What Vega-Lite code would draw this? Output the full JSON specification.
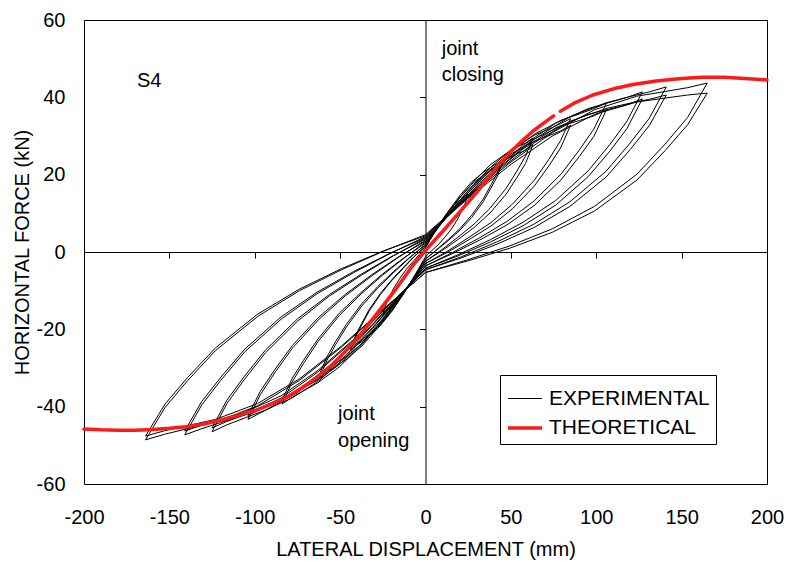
{
"$schema": "https://vega.github.io/schema/vega-lite/v6.json",
"width": 683, "height": 464,
"autosize": {"type": "none"},
"padding": {"left": 84, "top": 20, "right": 22, "bottom": 83},
"background": "white",
"config": {
  "view": {"stroke": "black", "strokeWidth": 1},
  "font": "Liberation Sans",
  "text": {"font": "Liberation Sans", "color": "black"},
  "axis": {"labelFont": "Liberation Sans", "titleFont": "Liberation Sans", "labelColor": "black", "titleColor": "black", "grid": false, "titleFontWeight": "normal"},
  "legend": {"labelFont": "Liberation Sans"}
},
"datasets": {
"exp": [
{"loop":"8a","i":0,"x":0,"y":4.5},{"loop":"8a","i":1,"x":24.8,"y":14.1},{"loop":"8a","i":2,"x":49.5,"y":23.1},{"loop":"8a","i":3,"x":74.3,"y":30.9},{"loop":"8a","i":4,"x":99,"y":36.8},{"loop":"8a","i":5,"x":123.8,"y":40.3},{"loop":"8a","i":6,"x":140.3,"y":41.5},{"loop":"8a","i":7,"x":153.5,"y":42.5},{"loop":"8a","i":8,"x":165,"y":43.7},{"loop":"8a","i":9,"x":153.5,"y":34.8},{"loop":"8a","i":10,"x":140.3,"y":27.9},{"loop":"8a","i":11,"x":123.8,"y":20.1},{"loop":"8a","i":12,"x":99,"y":11.8},{"loop":"8a","i":13,"x":74.3,"y":6.0},{"loop":"8a","i":14,"x":49.5,"y":1.6},{"loop":"8a","i":15,"x":24.8,"y":-2.0},{"loop":"8a","i":16,"x":0,"y":-5.3},{"loop":"8a","i":17,"x":-24.6,"y":-14.8},{"loop":"8a","i":18,"x":-49.2,"y":-24.6},{"loop":"8a","i":19,"x":-73.8,"y":-33.2},{"loop":"8a","i":20,"x":-98.4,"y":-39.8},{"loop":"8a","i":21,"x":-123,"y":-44.0},{"loop":"8a","i":22,"x":-139.4,"y":-45.7},{"loop":"8a","i":23,"x":-152.5,"y":-47.1},{"loop":"8a","i":24,"x":-164,"y":-48.6},{"loop":"8a","i":25,"x":-152.5,"y":-40.2},{"loop":"8a","i":26,"x":-139.4,"y":-33.3},{"loop":"8a","i":27,"x":-123,"y":-25.5},{"loop":"8a","i":28,"x":-98.4,"y":-16.7},{"loop":"8a","i":29,"x":-73.8,"y":-10.0},{"loop":"8a","i":30,"x":-49.2,"y":-4.6},{"loop":"8a","i":31,"x":-24.6,"y":0.2},{"loop":"8a","i":32,"x":0,"y":4.5},
{"loop":"8b","i":0,"x":0,"y":4.2},{"loop":"8b","i":1,"x":24.8,"y":13.8},{"loop":"8b","i":2,"x":49.5,"y":22.5},{"loop":"8b","i":3,"x":74.3,"y":30.0},{"loop":"8b","i":4,"x":99,"y":35.6},{"loop":"8b","i":5,"x":123.8,"y":38.8},{"loop":"8b","i":6,"x":140.3,"y":39.8},{"loop":"8b","i":7,"x":153.5,"y":40.6},{"loop":"8b","i":8,"x":165,"y":41.1},{"loop":"8b","i":9,"x":153.5,"y":32.9},{"loop":"8b","i":10,"x":140.3,"y":26.2},{"loop":"8b","i":11,"x":123.8,"y":18.6},{"loop":"8b","i":12,"x":99,"y":10.6},{"loop":"8b","i":13,"x":74.3,"y":5.1},{"loop":"8b","i":14,"x":49.5,"y":1.0},{"loop":"8b","i":15,"x":24.8,"y":-2.3},{"loop":"8b","i":16,"x":0,"y":-5.3},{"loop":"8b","i":17,"x":-24.6,"y":-14.7},{"loop":"8b","i":18,"x":-49.2,"y":-24.3},{"loop":"8b","i":19,"x":-73.8,"y":-32.8},{"loop":"8b","i":20,"x":-98.4,"y":-39.2},{"loop":"8b","i":21,"x":-123,"y":-43.3},{"loop":"8b","i":22,"x":-139.4,"y":-44.9},{"loop":"8b","i":23,"x":-152.5,"y":-46.2},{"loop":"8b","i":24,"x":-164,"y":-47.6},{"loop":"8b","i":25,"x":-152.5,"y":-39.3},{"loop":"8b","i":26,"x":-139.4,"y":-32.5},{"loop":"8b","i":27,"x":-123,"y":-24.8},{"loop":"8b","i":28,"x":-98.4,"y":-16.1},{"loop":"8b","i":29,"x":-73.8,"y":-9.6},{"loop":"8b","i":30,"x":-49.2,"y":-4.3},{"loop":"8b","i":31,"x":-24.6,"y":0.3},{"loop":"8b","i":32,"x":0,"y":4.2},
{"loop":"7a","i":0,"x":0,"y":4.0},{"loop":"7a","i":1,"x":21.2,"y":13.0},{"loop":"7a","i":2,"x":42.3,"y":21.6},{"loop":"7a","i":3,"x":63.5,"y":29.1},{"loop":"7a","i":4,"x":84.6,"y":35.0},{"loop":"7a","i":5,"x":105.8,"y":38.6},{"loop":"7a","i":6,"x":119.9,"y":40.2},{"loop":"7a","i":7,"x":131.1,"y":41.4},{"loop":"7a","i":8,"x":141,"y":42.7},{"loop":"7a","i":9,"x":131.1,"y":34.6},{"loop":"7a","i":10,"x":119.9,"y":28.2},{"loop":"7a","i":11,"x":105.8,"y":20.9},{"loop":"7a","i":12,"x":84.6,"y":13.0},{"loop":"7a","i":13,"x":63.5,"y":7.2},{"loop":"7a","i":14,"x":42.3,"y":2.7},{"loop":"7a","i":15,"x":21.2,"y":-1.2},{"loop":"7a","i":16,"x":0,"y":-4.6},{"loop":"7a","i":17,"x":-21.2,"y":-13.7},{"loop":"7a","i":18,"x":-42.3,"y":-23.0},{"loop":"7a","i":19,"x":-63.5,"y":-31.2},{"loop":"7a","i":20,"x":-84.6,"y":-37.8},{"loop":"7a","i":21,"x":-105.8,"y":-42.1},{"loop":"7a","i":22,"x":-119.9,"y":-44.1},{"loop":"7a","i":23,"x":-131.1,"y":-45.7},{"loop":"7a","i":24,"x":-141,"y":-47.3},{"loop":"7a","i":25,"x":-131.1,"y":-39.6},{"loop":"7a","i":26,"x":-119.9,"y":-33.2},{"loop":"7a","i":27,"x":-105.8,"y":-25.8},{"loop":"7a","i":28,"x":-84.6,"y":-17.4},{"loop":"7a","i":29,"x":-63.5,"y":-10.8},{"loop":"7a","i":30,"x":-42.3,"y":-5.4},{"loop":"7a","i":31,"x":-21.2,"y":-0.5},{"loop":"7a","i":32,"x":0,"y":4.0},
{"loop":"7b","i":0,"x":0,"y":3.7},{"loop":"7b","i":1,"x":21.2,"y":12.7},{"loop":"7b","i":2,"x":42.3,"y":21.0},{"loop":"7b","i":3,"x":63.5,"y":28.2},{"loop":"7b","i":4,"x":84.6,"y":33.8},{"loop":"7b","i":5,"x":105.8,"y":37.1},{"loop":"7b","i":6,"x":119.9,"y":38.5},{"loop":"7b","i":7,"x":131.1,"y":39.5},{"loop":"7b","i":8,"x":141,"y":40.6},{"loop":"7b","i":9,"x":131.1,"y":32.7},{"loop":"7b","i":10,"x":119.9,"y":26.5},{"loop":"7b","i":11,"x":105.8,"y":19.4},{"loop":"7b","i":12,"x":84.6,"y":11.8},{"loop":"7b","i":13,"x":63.5,"y":6.3},{"loop":"7b","i":14,"x":42.3,"y":2.1},{"loop":"7b","i":15,"x":21.2,"y":-1.5},{"loop":"7b","i":16,"x":0,"y":-4.6},{"loop":"7b","i":17,"x":-21.2,"y":-13.6},{"loop":"7b","i":18,"x":-42.3,"y":-22.7},{"loop":"7b","i":19,"x":-63.5,"y":-30.8},{"loop":"7b","i":20,"x":-84.6,"y":-37.2},{"loop":"7b","i":21,"x":-105.8,"y":-41.4},{"loop":"7b","i":22,"x":-119.9,"y":-43.3},{"loop":"7b","i":23,"x":-131.1,"y":-44.8},{"loop":"7b","i":24,"x":-141,"y":-46.3},{"loop":"7b","i":25,"x":-131.1,"y":-38.7},{"loop":"7b","i":26,"x":-119.9,"y":-32.4},{"loop":"7b","i":27,"x":-105.8,"y":-25.1},{"loop":"7b","i":28,"x":-84.6,"y":-16.8},{"loop":"7b","i":29,"x":-63.5,"y":-10.4},{"loop":"7b","i":30,"x":-42.3,"y":-5.1},{"loop":"7b","i":31,"x":-21.2,"y":-0.4},{"loop":"7b","i":32,"x":0,"y":3.7},
{"loop":"6a","i":0,"x":0,"y":3.6},{"loop":"6a","i":1,"x":19.1,"y":12.2},{"loop":"6a","i":2,"x":38.1,"y":20.4},{"loop":"6a","i":3,"x":57.2,"y":27.6},{"loop":"6a","i":4,"x":76.2,"y":33.3},{"loop":"6a","i":5,"x":95.3,"y":37.1},{"loop":"6a","i":6,"x":108,"y":38.7},{"loop":"6a","i":7,"x":118.1,"y":40.0},{"loop":"6a","i":8,"x":127,"y":41.4},{"loop":"6a","i":9,"x":118.1,"y":33.9},{"loop":"6a","i":10,"x":108,"y":27.8},{"loop":"6a","i":11,"x":95.3,"y":21.0},{"loop":"6a","i":12,"x":76.2,"y":13.3},{"loop":"6a","i":13,"x":57.2,"y":7.7},{"loop":"6a","i":14,"x":38.1,"y":3.2},{"loop":"6a","i":15,"x":19.1,"y":-0.7},{"loop":"6a","i":16,"x":0,"y":-4.2},{"loop":"6a","i":17,"x":-18.8,"y":-13.0},{"loop":"6a","i":18,"x":-37.5,"y":-22.0},{"loop":"6a","i":19,"x":-56.3,"y":-29.9},{"loop":"6a","i":20,"x":-75,"y":-36.4},{"loop":"6a","i":21,"x":-93.8,"y":-40.9},{"loop":"6a","i":22,"x":-106.3,"y":-43.0},{"loop":"6a","i":23,"x":-116.3,"y":-44.7},{"loop":"6a","i":24,"x":-125,"y":-46.5},{"loop":"6a","i":25,"x":-116.3,"y":-39.2},{"loop":"6a","i":26,"x":-106.3,"y":-33.1},{"loop":"6a","i":27,"x":-93.8,"y":-26.1},{"loop":"6a","i":28,"x":-75,"y":-17.9},{"loop":"6a","i":29,"x":-56.3,"y":-11.4},{"loop":"6a","i":30,"x":-37.5,"y":-6.0},{"loop":"6a","i":31,"x":-18.8,"y":-1.0},{"loop":"6a","i":32,"x":0,"y":3.6},
{"loop":"6b","i":0,"x":0,"y":3.3},{"loop":"6b","i":1,"x":19.1,"y":11.9},{"loop":"6b","i":2,"x":38.1,"y":19.8},{"loop":"6b","i":3,"x":57.2,"y":26.7},{"loop":"6b","i":4,"x":76.2,"y":32.1},{"loop":"6b","i":5,"x":95.3,"y":35.6},{"loop":"6b","i":6,"x":108,"y":37.0},{"loop":"6b","i":7,"x":118.1,"y":38.1},{"loop":"6b","i":8,"x":127,"y":39.6},{"loop":"6b","i":9,"x":118.1,"y":32.0},{"loop":"6b","i":10,"x":108,"y":26.1},{"loop":"6b","i":11,"x":95.3,"y":19.5},{"loop":"6b","i":12,"x":76.2,"y":12.1},{"loop":"6b","i":13,"x":57.2,"y":6.8},{"loop":"6b","i":14,"x":38.1,"y":2.6},{"loop":"6b","i":15,"x":19.1,"y":-1.0},{"loop":"6b","i":16,"x":0,"y":-4.2},{"loop":"6b","i":17,"x":-18.8,"y":-12.9},{"loop":"6b","i":18,"x":-37.5,"y":-21.7},{"loop":"6b","i":19,"x":-56.3,"y":-29.5},{"loop":"6b","i":20,"x":-75,"y":-35.8},{"loop":"6b","i":21,"x":-93.8,"y":-40.2},{"loop":"6b","i":22,"x":-106.3,"y":-42.2},{"loop":"6b","i":23,"x":-116.3,"y":-43.8},{"loop":"6b","i":24,"x":-125,"y":-45.5},{"loop":"6b","i":25,"x":-116.3,"y":-38.3},{"loop":"6b","i":26,"x":-106.3,"y":-32.3},{"loop":"6b","i":27,"x":-93.8,"y":-25.4},{"loop":"6b","i":28,"x":-75,"y":-17.3},{"loop":"6b","i":29,"x":-56.3,"y":-11.0},{"loop":"6b","i":30,"x":-37.5,"y":-5.7},{"loop":"6b","i":31,"x":-18.8,"y":-0.9},{"loop":"6b","i":32,"x":0,"y":3.3},
{"loop":"5a","i":0,"x":0,"y":3.1},{"loop":"5a","i":1,"x":15.9,"y":11.0},{"loop":"5a","i":2,"x":31.8,"y":18.5},{"loop":"5a","i":3,"x":47.7,"y":25.0},{"loop":"5a","i":4,"x":63.6,"y":30.4},{"loop":"5a","i":5,"x":79.5,"y":34.1},{"loop":"5a","i":6,"x":90.1,"y":35.7},{"loop":"5a","i":7,"x":98.6,"y":37.1},{"loop":"5a","i":8,"x":106,"y":38.5},{"loop":"5a","i":9,"x":98.6,"y":31.8},{"loop":"5a","i":10,"x":90.1,"y":26.4},{"loop":"5a","i":11,"x":79.5,"y":20.2},{"loop":"5a","i":12,"x":63.6,"y":13.2},{"loop":"5a","i":13,"x":47.7,"y":7.9},{"loop":"5a","i":14,"x":31.8,"y":3.7},{"loop":"5a","i":15,"x":15.9,"y":-0.1},{"loop":"5a","i":16,"x":0,"y":-3.6},{"loop":"5a","i":17,"x":-15.6,"y":-11.7},{"loop":"5a","i":18,"x":-31.2,"y":-19.9},{"loop":"5a","i":19,"x":-46.8,"y":-27.2},{"loop":"5a","i":20,"x":-62.4,"y":-33.3},{"loop":"5a","i":21,"x":-78,"y":-37.7},{"loop":"5a","i":22,"x":-88.4,"y":-39.8},{"loop":"5a","i":23,"x":-96.7,"y":-41.6},{"loop":"5a","i":24,"x":-104,"y":-43.3},{"loop":"5a","i":25,"x":-96.7,"y":-36.9},{"loop":"5a","i":26,"x":-88.4,"y":-31.3},{"loop":"5a","i":27,"x":-78,"y":-24.9},{"loop":"5a","i":28,"x":-62.4,"y":-17.4},{"loop":"5a","i":29,"x":-46.8,"y":-11.3},{"loop":"5a","i":30,"x":-31.2,"y":-6.1},{"loop":"5a","i":31,"x":-15.6,"y":-1.3},{"loop":"5a","i":32,"x":0,"y":3.1},
{"loop":"5b","i":0,"x":0,"y":2.8},{"loop":"5b","i":1,"x":15.9,"y":10.7},{"loop":"5b","i":2,"x":31.8,"y":17.9},{"loop":"5b","i":3,"x":47.7,"y":24.1},{"loop":"5b","i":4,"x":63.6,"y":29.2},{"loop":"5b","i":5,"x":79.5,"y":32.6},{"loop":"5b","i":6,"x":90.1,"y":34.0},{"loop":"5b","i":7,"x":98.6,"y":35.2},{"loop":"5b","i":8,"x":106,"y":36.8},{"loop":"5b","i":9,"x":98.6,"y":29.9},{"loop":"5b","i":10,"x":90.1,"y":24.7},{"loop":"5b","i":11,"x":79.5,"y":18.7},{"loop":"5b","i":12,"x":63.6,"y":12.0},{"loop":"5b","i":13,"x":47.7,"y":7.0},{"loop":"5b","i":14,"x":31.8,"y":3.1},{"loop":"5b","i":15,"x":15.9,"y":-0.4},{"loop":"5b","i":16,"x":0,"y":-3.6},{"loop":"5b","i":17,"x":-15.6,"y":-11.6},{"loop":"5b","i":18,"x":-31.2,"y":-19.6},{"loop":"5b","i":19,"x":-46.8,"y":-26.8},{"loop":"5b","i":20,"x":-62.4,"y":-32.7},{"loop":"5b","i":21,"x":-78,"y":-37.0},{"loop":"5b","i":22,"x":-88.4,"y":-39.0},{"loop":"5b","i":23,"x":-96.7,"y":-40.7},{"loop":"5b","i":24,"x":-104,"y":-42.3},{"loop":"5b","i":25,"x":-96.7,"y":-36.0},{"loop":"5b","i":26,"x":-88.4,"y":-30.5},{"loop":"5b","i":27,"x":-78,"y":-24.2},{"loop":"5b","i":28,"x":-62.4,"y":-16.8},{"loop":"5b","i":29,"x":-46.8,"y":-10.9},{"loop":"5b","i":30,"x":-31.2,"y":-5.8},{"loop":"5b","i":31,"x":-15.6,"y":-1.2},{"loop":"5b","i":32,"x":0,"y":2.8},
{"loop":"4a","i":0,"x":0,"y":2.6},{"loop":"4a","i":1,"x":12.8,"y":9.5},{"loop":"4a","i":2,"x":25.5,"y":16.2},{"loop":"4a","i":3,"x":38.3,"y":22.0},{"loop":"4a","i":4,"x":51,"y":26.8},{"loop":"4a","i":5,"x":63.8,"y":30.2},{"loop":"4a","i":6,"x":72.3,"y":31.8},{"loop":"4a","i":7,"x":79.1,"y":33.2},{"loop":"4a","i":8,"x":85,"y":34.5},{"loop":"4a","i":9,"x":79.1,"y":28.8},{"loop":"4a","i":10,"x":72.3,"y":24.0},{"loop":"4a","i":11,"x":63.8,"y":18.6},{"loop":"4a","i":12,"x":51,"y":12.4},{"loop":"4a","i":13,"x":38.3,"y":7.6},{"loop":"4a","i":14,"x":25.5,"y":3.8},{"loop":"4a","i":15,"x":12.8,"y":0.2},{"loop":"4a","i":16,"x":0,"y":-3.0},{"loop":"4a","i":17,"x":-12.6,"y":-10.2},{"loop":"4a","i":18,"x":-25.2,"y":-17.6},{"loop":"4a","i":19,"x":-37.8,"y":-24.2},{"loop":"4a","i":20,"x":-50.4,"y":-29.7},{"loop":"4a","i":21,"x":-63,"y":-33.8},{"loop":"4a","i":22,"x":-71.4,"y":-35.9},{"loop":"4a","i":23,"x":-78.1,"y":-37.6},{"loop":"4a","i":24,"x":-84,"y":-39.3},{"loop":"4a","i":25,"x":-78.1,"y":-33.6},{"loop":"4a","i":26,"x":-71.4,"y":-28.8},{"loop":"4a","i":27,"x":-63,"y":-23.2},{"loop":"4a","i":28,"x":-50.4,"y":-16.4},{"loop":"4a","i":29,"x":-37.8,"y":-10.9},{"loop":"4a","i":30,"x":-25.2,"y":-6.0},{"loop":"4a","i":31,"x":-12.6,"y":-1.6},{"loop":"4a","i":32,"x":0,"y":2.6},
{"loop":"4b","i":0,"x":0,"y":2.3},{"loop":"4b","i":1,"x":12.8,"y":9.2},{"loop":"4b","i":2,"x":25.5,"y":15.6},{"loop":"4b","i":3,"x":38.3,"y":21.1},{"loop":"4b","i":4,"x":51,"y":25.6},{"loop":"4b","i":5,"x":63.8,"y":28.7},{"loop":"4b","i":6,"x":72.3,"y":30.1},{"loop":"4b","i":7,"x":79.1,"y":31.3},{"loop":"4b","i":8,"x":85,"y":32.8},{"loop":"4b","i":9,"x":79.1,"y":26.9},{"loop":"4b","i":10,"x":72.3,"y":22.3},{"loop":"4b","i":11,"x":63.8,"y":17.1},{"loop":"4b","i":12,"x":51,"y":11.2},{"loop":"4b","i":13,"x":38.3,"y":6.7},{"loop":"4b","i":14,"x":25.5,"y":3.2},{"loop":"4b","i":15,"x":12.8,"y":-0.1},{"loop":"4b","i":16,"x":0,"y":-3.0},{"loop":"4b","i":17,"x":-12.6,"y":-10.1},{"loop":"4b","i":18,"x":-25.2,"y":-17.3},{"loop":"4b","i":19,"x":-37.8,"y":-23.8},{"loop":"4b","i":20,"x":-50.4,"y":-29.1},{"loop":"4b","i":21,"x":-63,"y":-33.1},{"loop":"4b","i":22,"x":-71.4,"y":-35.1},{"loop":"4b","i":23,"x":-78.1,"y":-36.7},{"loop":"4b","i":24,"x":-84,"y":-38.3},{"loop":"4b","i":25,"x":-78.1,"y":-32.7},{"loop":"4b","i":26,"x":-71.4,"y":-28.0},{"loop":"4b","i":27,"x":-63,"y":-22.5},{"loop":"4b","i":28,"x":-50.4,"y":-15.8},{"loop":"4b","i":29,"x":-37.8,"y":-10.5},{"loop":"4b","i":30,"x":-25.2,"y":-5.7},{"loop":"4b","i":31,"x":-12.6,"y":-1.5},{"loop":"4b","i":32,"x":0,"y":2.3},
{"loop":"3a","i":0,"x":0,"y":2.0},{"loop":"3a","i":1,"x":9.5,"y":7.8},{"loop":"3a","i":2,"x":18.9,"y":13.4},{"loop":"3a","i":3,"x":28.4,"y":18.3},{"loop":"3a","i":4,"x":37.8,"y":22.5},{"loop":"3a","i":5,"x":47.3,"y":25.5},{"loop":"3a","i":6,"x":53.6,"y":27.1},{"loop":"3a","i":7,"x":58.6,"y":28.2},{"loop":"3a","i":8,"x":63,"y":29.5},{"loop":"3a","i":9,"x":58.6,"y":24.8},{"loop":"3a","i":10,"x":53.6,"y":21.0},{"loop":"3a","i":11,"x":47.3,"y":16.5},{"loop":"3a","i":12,"x":37.8,"y":11.3},{"loop":"3a","i":13,"x":28.4,"y":7.2},{"loop":"3a","i":14,"x":18.9,"y":3.8},{"loop":"3a","i":15,"x":9.5,"y":0.6},{"loop":"3a","i":16,"x":0,"y":-2.4},{"loop":"3a","i":17,"x":-9.3,"y":-8.3},{"loop":"3a","i":18,"x":-18.6,"y":-14.3},{"loop":"3a","i":19,"x":-27.9,"y":-19.6},{"loop":"3a","i":20,"x":-37.2,"y":-24.3},{"loop":"3a","i":21,"x":-46.5,"y":-27.8},{"loop":"3a","i":22,"x":-52.7,"y":-29.6},{"loop":"3a","i":23,"x":-57.7,"y":-31.0},{"loop":"3a","i":24,"x":-62,"y":-32.5},{"loop":"3a","i":25,"x":-57.7,"y":-28.0},{"loop":"3a","i":26,"x":-52.7,"y":-24.0},{"loop":"3a","i":27,"x":-46.5,"y":-19.5},{"loop":"3a","i":28,"x":-37.2,"y":-13.9},{"loop":"3a","i":29,"x":-27.9,"y":-9.3},{"loop":"3a","i":30,"x":-18.6,"y":-5.3},{"loop":"3a","i":31,"x":-9.3,"y":-1.5},{"loop":"3a","i":32,"x":0,"y":2.0},
{"loop":"3b","i":0,"x":0,"y":1.8},{"loop":"3b","i":1,"x":9.5,"y":7.5},{"loop":"3b","i":2,"x":18.9,"y":12.8},{"loop":"3b","i":3,"x":28.4,"y":17.4},{"loop":"3b","i":4,"x":37.8,"y":21.3},{"loop":"3b","i":5,"x":47.3,"y":24.0},{"loop":"3b","i":6,"x":53.6,"y":25.4},{"loop":"3b","i":7,"x":58.6,"y":26.3},{"loop":"3b","i":8,"x":63,"y":27.8},{"loop":"3b","i":9,"x":58.6,"y":22.9},{"loop":"3b","i":10,"x":53.6,"y":19.3},{"loop":"3b","i":11,"x":47.3,"y":15.0},{"loop":"3b","i":12,"x":37.8,"y":10.1},{"loop":"3b","i":13,"x":28.4,"y":6.3},{"loop":"3b","i":14,"x":18.9,"y":3.2},{"loop":"3b","i":15,"x":9.5,"y":0.3},{"loop":"3b","i":16,"x":0,"y":-2.4},{"loop":"3b","i":17,"x":-9.3,"y":-8.2},{"loop":"3b","i":18,"x":-18.6,"y":-14.0},{"loop":"3b","i":19,"x":-27.9,"y":-19.2},{"loop":"3b","i":20,"x":-37.2,"y":-23.7},{"loop":"3b","i":21,"x":-46.5,"y":-27.1},{"loop":"3b","i":22,"x":-52.7,"y":-28.8},{"loop":"3b","i":23,"x":-57.7,"y":-30.1},{"loop":"3b","i":24,"x":-62,"y":-31.5},{"loop":"3b","i":25,"x":-57.7,"y":-27.1},{"loop":"3b","i":26,"x":-52.7,"y":-23.2},{"loop":"3b","i":27,"x":-46.5,"y":-18.8},{"loop":"3b","i":28,"x":-37.2,"y":-13.3},{"loop":"3b","i":29,"x":-27.9,"y":-8.9},{"loop":"3b","i":30,"x":-18.6,"y":-5.0},{"loop":"3b","i":31,"x":-9.3,"y":-1.4},{"loop":"3b","i":32,"x":0,"y":1.8},
{"loop":"2a","i":0,"x":0,"y":1.5},{"loop":"2a","i":1,"x":6.8,"y":6.2},{"loop":"2a","i":2,"x":13.5,"y":10.6},{"loop":"2a","i":3,"x":20.3,"y":14.7},{"loop":"2a","i":4,"x":27,"y":18.1},{"loop":"2a","i":5,"x":33.8,"y":20.6},{"loop":"2a","i":6,"x":38.3,"y":21.9},{"loop":"2a","i":7,"x":41.9,"y":22.9},{"loop":"2a","i":8,"x":45,"y":24.0},{"loop":"2a","i":9,"x":41.9,"y":20.3},{"loop":"2a","i":10,"x":38.3,"y":17.3},{"loop":"2a","i":11,"x":33.8,"y":13.7},{"loop":"2a","i":12,"x":27,"y":9.5},{"loop":"2a","i":13,"x":20.3,"y":6.1},{"loop":"2a","i":14,"x":13.5,"y":3.3},{"loop":"2a","i":15,"x":6.8,"y":0.7},{"loop":"2a","i":16,"x":0,"y":-1.8},{"loop":"2a","i":17,"x":-6.6,"y":-6.4},{"loop":"2a","i":18,"x":-13.2,"y":-11.1},{"loop":"2a","i":19,"x":-19.8,"y":-15.4},{"loop":"2a","i":20,"x":-26.4,"y":-19.0},{"loop":"2a","i":21,"x":-33,"y":-21.7},{"loop":"2a","i":22,"x":-37.4,"y":-23.2},{"loop":"2a","i":23,"x":-40.9,"y":-24.3},{"loop":"2a","i":24,"x":-44,"y":-25.5},{"loop":"2a","i":25,"x":-40.9,"y":-22.0},{"loop":"2a","i":26,"x":-37.4,"y":-18.9},{"loop":"2a","i":27,"x":-33,"y":-15.3},{"loop":"2a","i":28,"x":-26.4,"y":-11.0},{"loop":"2a","i":29,"x":-19.8,"y":-7.4},{"loop":"2a","i":30,"x":-13.2,"y":-4.3},{"loop":"2a","i":31,"x":-6.6,"y":-1.2},{"loop":"2a","i":32,"x":0,"y":1.5},
{"loop":"2b","i":0,"x":0,"y":1.3},{"loop":"2b","i":1,"x":6.8,"y":6.1},{"loop":"2b","i":2,"x":13.5,"y":10.3},{"loop":"2b","i":3,"x":20.3,"y":14.3},{"loop":"2b","i":4,"x":27,"y":17.5},{"loop":"2b","i":5,"x":33.8,"y":19.9},{"loop":"2b","i":6,"x":38.3,"y":21.1},{"loop":"2b","i":7,"x":41.9,"y":22.0},{"loop":"2b","i":8,"x":45,"y":23.0},{"loop":"2b","i":9,"x":41.9,"y":19.4},{"loop":"2b","i":10,"x":38.3,"y":16.5},{"loop":"2b","i":11,"x":33.8,"y":13.0},{"loop":"2b","i":12,"x":27,"y":8.9},{"loop":"2b","i":13,"x":20.3,"y":5.7},{"loop":"2b","i":14,"x":13.5,"y":3.0},{"loop":"2b","i":15,"x":6.8,"y":0.6},{"loop":"2b","i":16,"x":0,"y":-1.8},{"loop":"2b","i":17,"x":-6.6,"y":-6.3},{"loop":"2b","i":18,"x":-13.2,"y":-11.0},{"loop":"2b","i":19,"x":-19.8,"y":-15.2},{"loop":"2b","i":20,"x":-26.4,"y":-18.7},{"loop":"2b","i":21,"x":-33,"y":-21.3},{"loop":"2b","i":22,"x":-37.4,"y":-22.8},{"loop":"2b","i":23,"x":-40.9,"y":-23.8},{"loop":"2b","i":24,"x":-44,"y":-25.0},{"loop":"2b","i":25,"x":-40.9,"y":-21.5},{"loop":"2b","i":26,"x":-37.4,"y":-18.5},{"loop":"2b","i":27,"x":-33,"y":-14.9},{"loop":"2b","i":28,"x":-26.4,"y":-10.7},{"loop":"2b","i":29,"x":-19.8,"y":-7.2},{"loop":"2b","i":30,"x":-13.2,"y":-4.1},{"loop":"2b","i":31,"x":-6.6,"y":-1.1},{"loop":"2b","i":32,"x":0,"y":1.3},
{"loop":"1a","i":0,"x":0,"y":1.0},{"loop":"1a","i":1,"x":3.8,"y":4.0},{"loop":"1a","i":2,"x":7.5,"y":6.7},{"loop":"1a","i":3,"x":11.3,"y":9.3},{"loop":"1a","i":4,"x":15,"y":11.4},{"loop":"1a","i":5,"x":18.8,"y":13.0},{"loop":"1a","i":6,"x":21.3,"y":13.8},{"loop":"1a","i":7,"x":23.3,"y":14.4},{"loop":"1a","i":8,"x":25,"y":15.0},{"loop":"1a","i":9,"x":23.3,"y":12.7},{"loop":"1a","i":10,"x":21.3,"y":10.8},{"loop":"1a","i":11,"x":18.8,"y":8.5},{"loop":"1a","i":12,"x":15,"y":5.8},{"loop":"1a","i":13,"x":11.3,"y":3.8},{"loop":"1a","i":14,"x":7.5,"y":1.9},{"loop":"1a","i":15,"x":3.8,"y":0.4},{"loop":"1a","i":16,"x":0,"y":-1.2},{"loop":"1a","i":17,"x":-3.8,"y":-4.1},{"loop":"1a","i":18,"x":-7.5,"y":-7.0},{"loop":"1a","i":19,"x":-11.3,"y":-9.7},{"loop":"1a","i":20,"x":-15,"y":-12.0},{"loop":"1a","i":21,"x":-18.8,"y":-13.7},{"loop":"1a","i":22,"x":-21.3,"y":-14.6},{"loop":"1a","i":23,"x":-23.3,"y":-15.3},{"loop":"1a","i":24,"x":-25,"y":-16.0},{"loop":"1a","i":25,"x":-23.3,"y":-13.8},{"loop":"1a","i":26,"x":-21.3,"y":-11.8},{"loop":"1a","i":27,"x":-18.8,"y":-9.5},{"loop":"1a","i":28,"x":-15,"y":-6.8},{"loop":"1a","i":29,"x":-11.3,"y":-4.5},{"loop":"1a","i":30,"x":-7.5,"y":-2.6},{"loop":"1a","i":31,"x":-3.8,"y":-0.7},{"loop":"1a","i":32,"x":0,"y":1.0}
],
"theo": [
{"part":"T1","i":0,"x":-200,"y":-45.8},{"part":"T1","i":1,"x":-190,"y":-46.0},{"part":"T1","i":2,"x":-180,"y":-46.1},{"part":"T1","i":3,"x":-170,"y":-46.1},{"part":"T1","i":4,"x":-160,"y":-45.9},{"part":"T1","i":5,"x":-150,"y":-45.6},{"part":"T1","i":6,"x":-140,"y":-45.2},{"part":"T1","i":7,"x":-130,"y":-44.5},{"part":"T1","i":8,"x":-120,"y":-43.5},{"part":"T1","i":9,"x":-110,"y":-42.3},{"part":"T1","i":10,"x":-100,"y":-41.0},{"part":"T1","i":11,"x":-90,"y":-39.3},{"part":"T1","i":12,"x":-81,"y":-37.5},{"part":"T1","i":13,"x":-73,"y":-35.3},{"part":"T1","i":14,"x":-65,"y":-32.9},{"part":"T1","i":15,"x":-55,"y":-29.3},{"part":"T1","i":16,"x":-46,"y":-25.3},{"part":"T1","i":17,"x":-36,"y":-20.2},{"part":"T1","i":18,"x":-27,"y":-15.1},{"part":"T1","i":19,"x":-17,"y":-9.4},{"part":"T1","i":20,"x":-8,"y":-3.8},{"part":"T1","i":21,"x":0,"y":0.4},{"part":"T1","i":22,"x":10,"y":5.3},{"part":"T1","i":23,"x":20,"y":10.3},{"part":"T1","i":24,"x":30,"y":15.4},{"part":"T1","i":25,"x":41.8,"y":22.0},{"part":"T1","i":26,"x":50,"y":26.0},{"part":"T1","i":27,"x":56,"y":28.5},{"part":"T1","i":28,"x":63,"y":31.3},{"part":"T1","i":29,"x":70,"y":33.6},{"part":"T1","i":30,"x":75,"y":35.2},
{"part":"T2","i":0,"x":79,"y":36.4},{"part":"T2","i":1,"x":88,"y":38.7},{"part":"T2","i":2,"x":98,"y":40.6},{"part":"T2","i":3,"x":110,"y":42.2},{"part":"T2","i":4,"x":121.5,"y":43.3},{"part":"T2","i":5,"x":135,"y":44.2},{"part":"T2","i":6,"x":150,"y":44.9},{"part":"T2","i":7,"x":162,"y":45.2},{"part":"T2","i":8,"x":175,"y":45.2},{"part":"T2","i":9,"x":187,"y":44.9},{"part":"T2","i":10,"x":200,"y":44.5}
],
"notes": [
{"label":"S4","x":-169,"y":42.7},
{"label":"joint","x":9.5,"y":50.9},
{"label":"closing","x":9.5,"y":44.2},
{"label":"joint","x":-51.2,"y":-43.4},
{"label":"opening","x":-51.2,"y":-50.4}
]
},
"layer": [
{
"data": {"name": "exp"},
"mark": {"type": "line", "strokeJoin": "round", "clip": true},
"encoding": {
  "x": {"field": "x", "type": "quantitative", "scale": {"domain": [-200, 200], "nice": false, "zero": false},
        "axis": {"values": [-200,-150,-100,-50,0,50,100,150,200], "ticks": false, "tickSize": 0, "domain": false, "labelFontSize": 20, "labelPadding": 23, "labelFlush": false, "labelOverlap": false, "labelExpr": "datum.value < 0 ? '-' + abs(datum.value) : '' + datum.value", "title": "LATERAL DISPLACEMENT (mm)", "titleFontSize": 20, "titlePadding": 12}},
  "y": {"field": "y", "type": "quantitative", "scale": {"domain": [-60, 60], "nice": false, "zero": false},
        "axis": {"values": [-60,-40,-20,0,20,40,60], "ticks": false, "tickSize": 0, "domain": false, "labelFontSize": 20, "labelPadding": 19, "labelFlush": false, "labelOverlap": false, "labelExpr": "datum.value < 0 ? '-' + abs(datum.value) : '' + datum.value", "title": "HORIZONTAL FORCE (kN)", "titleFontSize": 20, "titlePadding": 4}},
  "detail": {"field": "loop", "type": "nominal"},
  "order": {"field": "i", "type": "quantitative"},
  "color": {"datum": "EXPERIMENTAL", "type": "nominal", "scale": {"domain": ["EXPERIMENTAL", "THEORETICAL"], "range": ["#000000", "#ff1a1a"]},
            "legend": {"title": null, "orient": "none", "legendX": 416, "legendY": 355, "padding": 6, "strokeColor": "black", "fillColor": "white", "labelFontSize": 21, "labelColor": "black", "labelLimit": 400, "symbolType": "stroke", "symbolSize": 1156, "rowPadding": -2, "labelOffset": 5}},
  "strokeWidth": {"datum": "EXPERIMENTAL", "type": "ordinal", "scale": {"domain": ["EXPERIMENTAL", "THEORETICAL"], "range": [1, 3.5]},
            "legend": {"title": null, "orient": "none", "legendX": 416, "legendY": 355, "padding": 6, "strokeColor": "black", "fillColor": "white", "labelFontSize": 21, "labelColor": "black", "labelLimit": 400, "symbolType": "stroke", "symbolSize": 1156, "rowPadding": -2, "labelOffset": 5}}
}
},
{
"data": {"name": "theo"},
"mark": {"type": "line", "strokeJoin": "round", "strokeCap": "round"},
"encoding": {
  "x": {"field": "x", "type": "quantitative", "scale": {"domain": [-200, 200], "nice": false, "zero": false}, "axis": null},
  "y": {"field": "y", "type": "quantitative", "scale": {"domain": [-60, 60], "nice": false, "zero": false}, "axis": null},
  "detail": {"field": "part", "type": "nominal"},
  "order": {"field": "i", "type": "quantitative"},
  "color": {"datum": "THEORETICAL", "type": "nominal"},
  "strokeWidth": {"datum": "THEORETICAL", "type": "ordinal"}
}
},
{
"data": {"name": "notes"},
"mark": {"type": "text", "align": "left", "baseline": "alphabetic", "fontSize": 20, "color": "black"},
"encoding": {
  "x": {"field": "x", "type": "quantitative", "scale": {"domain": [-200, 200], "nice": false, "zero": false},
        "axis": {"orient": "bottom", "offset": -232, "values": [-150,-100,-50,50,100,150], "labels": false, "ticks": true, "tickSize": 6, "tickColor": "black", "domain": true, "domainColor": "black", "title": null, "grid": false}},
  "y": {"field": "y", "type": "quantitative", "scale": {"domain": [-60, 60], "nice": false, "zero": false},
        "axis": {"orient": "left", "offset": -341.5, "values": [-40,-20,20,40], "labels": false, "ticks": true, "tickSize": 6, "tickColor": "black", "domain": true, "domainColor": "black", "title": null, "grid": false}},
  "text": {"field": "label", "type": "nominal"}
}
}
],
"resolve": {"axis": {"x": "independent", "y": "independent"}}
}
